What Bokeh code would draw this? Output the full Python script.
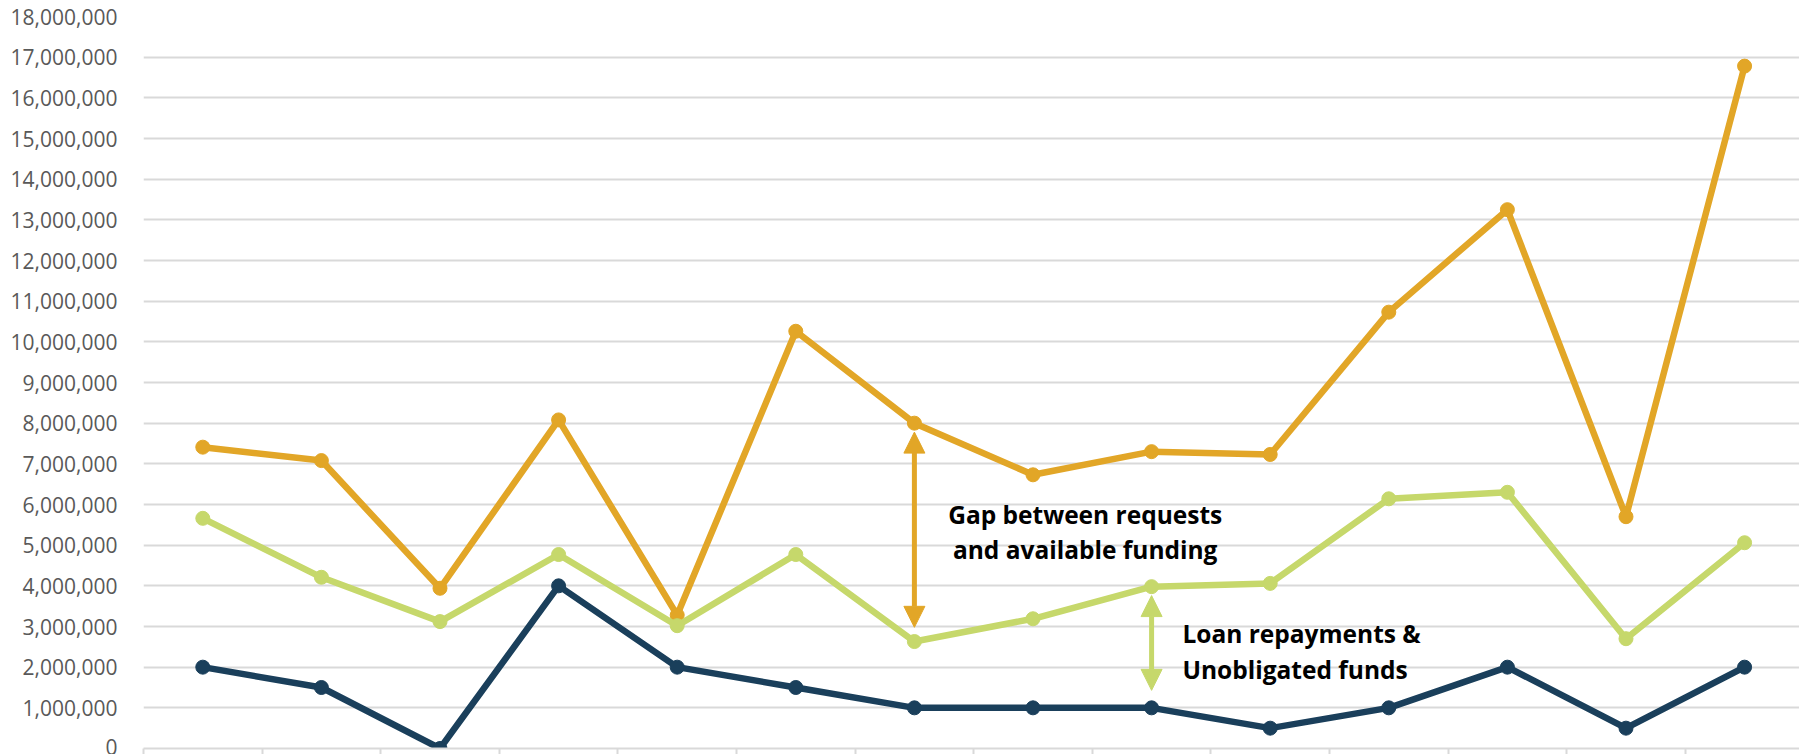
from bokeh.plotting import figure
from bokeh.models import Range1d, FixedTicker, NumeralTickFormatter, Arrow, NormalHead, Label
from bokeh.embed import file_html
from bokeh.resources import INLINE

# ---- data (values in dollars) ----
periods = list(range(1, 15))
requests = [7.41e6, 7.08e6, 3.94e6, 8.08e6, 3.28e6, 10.26e6, 8.00e6, 6.73e6, 7.30e6, 7.23e6, 10.73e6, 13.25e6, 5.70e6, 16.78e6]
available = [5.66e6, 4.21e6, 3.12e6, 4.77e6, 3.02e6, 4.77e6, 2.63e6, 3.19e6, 3.98e6, 4.06e6, 6.14e6, 6.30e6, 2.70e6, 5.06e6]
appropriation = [2.0e6, 1.5e6, 0.0, 4.0e6, 2.0e6, 1.5e6, 1.0e6, 1.0e6, 1.0e6, 0.5e6, 1.0e6, 2.0e6, 0.5e6, 2.0e6]
y_ticks = [i * 1_000_000 for i in range(0, 19)]

ORANGE = "#E2A627"
GREEN = "#C6D86B"
NAVY = "#1A3F5B"
GRID = "#d9d9d9"

x = [i - 0.5 for i in periods]

p = figure(width=1799, height=754, output_backend="svg", toolbar_location=None,
           x_range=Range1d(0, 13.963), y_range=Range1d(0, 18e6),
           min_border_left=143, min_border_top=16, min_border_right=0, min_border_bottom=0)
p.outline_line_color = None
p.background_fill_color = "white"
p.border_fill_color = "white"

p.xgrid.visible = False
p.ygrid.grid_line_color = GRID
p.ygrid.grid_line_width = 2
p.ygrid.ticker = FixedTicker(ticks=y_ticks)

p.yaxis.ticker = FixedTicker(ticks=y_ticks)
p.yaxis.formatter = NumeralTickFormatter(format="0,0")
p.yaxis.axis_line_color = None
p.yaxis.major_tick_line_color = None
p.yaxis.minor_tick_line_color = None
p.yaxis.major_label_standoff = 20
p.yaxis.major_label_text_font = "Open Sans"
p.yaxis.major_label_text_font_size = "21px"
p.yaxis.major_label_text_color = "#595959"

p.xaxis.ticker = FixedTicker(ticks=list(range(0, 15)))
p.xaxis.major_label_text_font_size = "0px"
p.xaxis.major_label_standoff = 0
p.xaxis.major_tick_out = 6
p.xaxis.major_tick_in = 0
p.xaxis.minor_tick_line_color = None
p.xaxis.axis_line_color = GRID
p.xaxis.axis_line_width = 2
p.xaxis.major_tick_line_color = GRID
p.xaxis.major_tick_line_width = 2

for series, color in ((requests, ORANGE), (available, GREEN), (appropriation, NAVY)):
    p.line(x, series, line_color=color, line_width=6.5, line_join="round")
    p.scatter(x, series, size=14, fill_color=color, line_color=color)

# arrows
gap_i = 6
p.add_layout(Arrow(start=NormalHead(size=21, fill_color=ORANGE, line_color=ORANGE),
                   end=NormalHead(size=21, fill_color=ORANGE, line_color=ORANGE),
                   x_start=x[gap_i], y_start=requests[gap_i] - 0.22e6,
                   x_end=x[gap_i], y_end=available[gap_i] + 0.35e6,
                   line_color=ORANGE, line_width=5))
loan_i = 8
p.add_layout(Arrow(start=NormalHead(size=21, fill_color=GREEN, line_color=GREEN),
                   end=NormalHead(size=21, fill_color=GREEN, line_color=GREEN),
                   x_start=x[loan_i], y_start=available[loan_i] - 0.22e6,
                   x_end=x[loan_i], y_end=appropriation[loan_i] + 0.43e6,
                   line_color=GREEN, line_width=5))

def add_text(txt, xx, yy, align):
    p.add_layout(Label(x=xx, y=yy, text=txt, text_font="Open Sans", text_font_style="bold",
                       text_font_size="24.5px", text_color="black", text_align=align,
                       text_baseline="alphabetic"))

add_text("Gap between requests", 7.94, 5.75e6, "center")
add_text("and available funding", 7.94, 4.89e6, "center")
add_text("Loan repayments &", 8.76, 2.83e6, "left")
add_text("Unobligated funds", 8.76, 1.94e6, "left")

open("out.html", "w").write(file_html(p, INLINE))
